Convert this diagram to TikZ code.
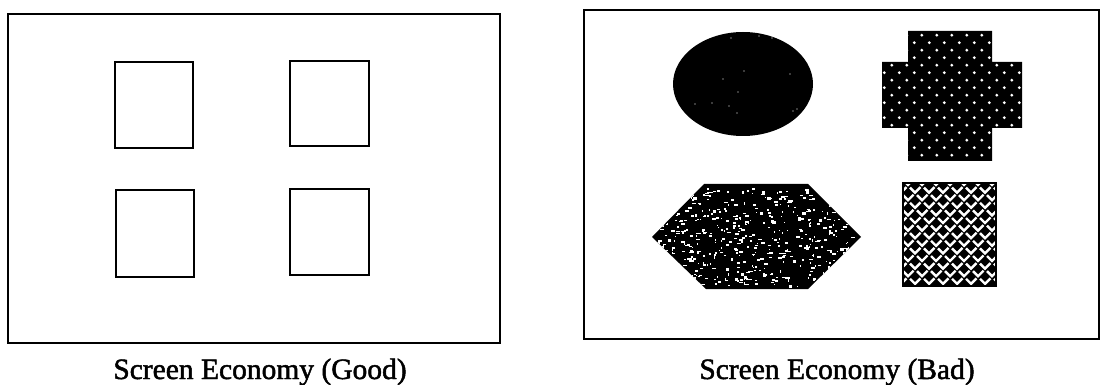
\documentclass[tikz,border=0pt]{standalone}
\usepackage{fontspec}
\setmainfont{Liberation Serif}[FakeBold=1.6]
\begin{document}
\begin{tikzpicture}[x=1pt,y=-1pt,
  frame/.style={draw=black,line width=1.8pt,rectangle,inner sep=0pt,anchor=north west},
  goodbox/.style={draw=black,line width=1.8pt,rectangle,inner sep=0pt,anchor=north west},
  caption/.style={font=\fontsize{29.5}{34}\selectfont,inner sep=0pt,anchor=base}]
\useasboundingbox (0,0) rectangle (1104,385);
\fill[white] (0,0) rectangle (1104,385);
% left panel
\node[frame,minimum width=492pt,minimum height=329pt] (leftframe) at (7,13) {};
\node[goodbox,minimum width=78pt,minimum height=86pt] (sq1) at (114,61) {};
\node[goodbox,minimum width=79pt,minimum height=85pt] (sq2) at (289,60) {};
\node[goodbox,minimum width=78pt,minimum height=87pt] (sq3) at (115,189) {};
\node[goodbox,minimum width=79pt,minimum height=86pt] (sq4) at (289,188) {};
\node[caption] (capgood) at (260,379) {Screen Economy (Good)};
% right panel
\node[frame,minimum width=515pt,minimum height=329pt] (rightframe) at (583,9) {};
% ellipse
\fill[black] (743,84) ellipse [x radius=70, y radius=52];
\foreach \p in {(731,38),(759,36),(772,38),(786,40),(723,79),(744,71),(738,92),(790,74),(793,111),(712,103),(729,106),(797,109),(695,104),(737,113)}
  \fill[white] \p circle (0.7);
% cross with dots
\begin{scope}
\path[clip] (908,31) -- (992,31) -- (992,62) -- (1022,62) -- (1022,128) -- (992,128) -- (992,161) -- (908,161) -- (908,128) -- (882,128) -- (882,62) -- (908,62) -- cycle;
\fill[black] (880,29) rectangle (1024,163);
\foreach \j in {-2,...,16} {
  \pgfmathsetmacro\yy{42.7+7.5*\j}
  \pgfmathsetmacro\off{mod(\j+20,2)*7.5}
  \foreach \k in {-1,...,10} {
    \fill[white] ({884.3+15*\k+\off},\yy) circle (1.6);
  }
}
\end{scope}
% hexagon with noise
\begin{scope}
\path[clip] (652,237) -- (704,184) -- (808,184) -- (861,237) -- (808,289) -- (706,289) -- cycle;
\fill[black] (650,182) rectangle (863,291);
\pgfmathsetseed{4242}
\foreach \i in {1,...,560} {
  \pgfmathsetmacro\rx{655+203*rnd}
  \pgfmathsetmacro\ry{188+98*rnd}
  \pgfmathsetmacro\rw{0.8+3.2*rnd}
  \pgfmathsetmacro\rh{0.8+1.8*rnd}
  \fill[white] (\rx,\ry) rectangle ++(\rw,\rh);
}
\end{scope}
% weave square
\begin{scope}
\path[clip] (903,183) rectangle (996,286);
\fill[black] (903,183) rectangle (996,286);
\foreach \j in {0,...,14} {
  \pgfmathsetmacro\yy{180+7.6*\j}
  \pgfmathsetmacro\off{mod(\j,2)*7}
  \foreach \k in {-1,...,7} {
    \draw[white,line width=2.4pt,line cap=butt,line join=miter]
      ({903+14*\k+\off},\yy) -- ++(5,5) -- ++(5.5,-5.5);
  }
}
\end{scope}
\draw[black,line width=1.4pt] (903,183) rectangle (996,286);
\node[caption] (capbad) at (837,379) {Screen Economy (Bad)};
\end{tikzpicture}
\end{document}
